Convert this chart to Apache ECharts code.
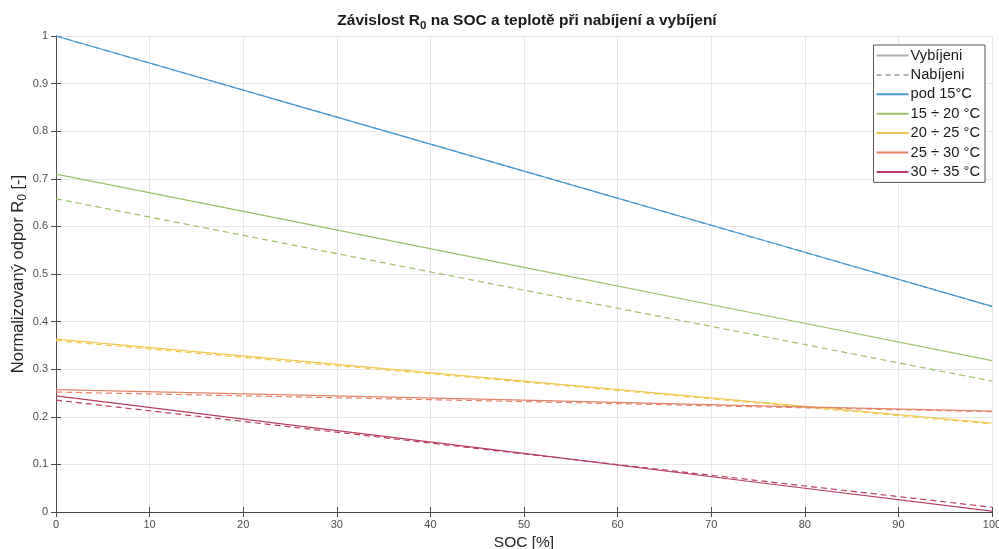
<!DOCTYPE html>
<html>
<head>
<meta charset="utf-8">
<script src="https://cdn.jsdelivr.net/npm/echarts@6/dist/echarts.min.js"></script>
<style>html,body{margin:0;padding:0;background:#fff}#c{width:999px;height:549px}</style>
</head>
<body>
<div id="c"></div>
<script>
// SOC [%] sample points
var soc = [0, 25, 50, 75, 100];
// Vybíjení (discharge, solid)
var pod15_v = [1.000, 0.858, 0.716, 0.574, 0.432];
var t15_20_v = [0.710, 0.612, 0.514, 0.416, 0.318];
var t20_25_v = [0.363, 0.319, 0.275, 0.231, 0.187];
var t25_30_v = [0.257, 0.246, 0.235, 0.223, 0.212];
var t30_35_v = [0.244, 0.183, 0.123, 0.062, 0.002];
// Nabíjení (charge, dashed)
var pod15_n = [1.000, 0.858, 0.716, 0.574, 0.432];
var t15_20_n = [0.658, 0.562, 0.466, 0.371, 0.275];
var t20_25_n = [0.360, 0.316, 0.273, 0.229, 0.185];
var t25_30_n = [0.252, 0.242, 0.232, 0.221, 0.211];
var t30_35_n = [0.235, 0.179, 0.122, 0.066, 0.010];

var names = ['pod 15°C', '15 ÷ 20 °C', '20 ÷ 25 °C', '25 ÷ 30 °C', '30 ÷ 35 °C'];
var colors = ['#4a9ad2', '#9dc16a', '#f0c850', '#e2836a', '#b8405e'];
var solid = [pod15_v, t15_20_v, t20_25_v, t25_30_v, t30_35_v];
var dashed = [pod15_n, t15_20_n, t20_25_n, t25_30_n, t30_35_n];

function pairs(arr) { return soc.map(function (s, i) { return [s, arr[i]]; }); }

var FONT = 'Liberation Sans, Arial, Helvetica, sans-serif';
var series = [
  { name: 'Vybíjeni', type: 'line', data: [], symbol: 'none', lineStyle: { color: '#b0b0b0', width: 1.2 }, itemStyle: { color: '#b0b0b0' } },
  { name: 'Nabíjeni', type: 'line', data: [], symbol: 'none', lineStyle: { color: '#b0b0b0', width: 1.2, type: [5, 4] }, itemStyle: { color: '#b0b0b0' } }
];
for (var j = 0; j < names.length; j++) {
  series.push({ name: names[j], type: 'line', data: pairs(solid[j]), symbol: 'none', z: 3,
    lineStyle: { color: colors[j], width: 1.2 }, itemStyle: { color: colors[j] } });
}
for (var i = 0; i < names.length; i++) {
  series.push({ name: names[i], type: 'line', data: pairs(dashed[i]), symbol: 'none', z: 2,
    lineStyle: { color: colors[i], width: 1.2, type: [6, 4] }, itemStyle: { color: colors[i] } });
}

var axisLine = { show: true, lineStyle: { color: '#4a4a4a', width: 1 } };
var tick = { inside: true, length: 5, lineStyle: { color: '#4a4a4a' } };
var chart = echarts.init(document.getElementById('c'), null, { renderer: 'canvas' });
chart.setOption({
  animation: false,
  backgroundColor: '#fff',
  textStyle: { fontFamily: FONT },
  title: {
    text: 'Závislost R{sub|0} na SOC a teplotě při nabíjení a vybíjení',
    left: 522, top: 5, textAlign: 'center',
    textStyle: { fontSize: 15.5, fontWeight: 'bold', color: '#1a1a1a', fontFamily: FONT,
      rich: { sub: { fontSize: 11.5, fontWeight: 'bold', color: '#1a1a1a', fontFamily: FONT, padding: [10, 0, 0, 0] } } }
  },
  legend: {
    orient: 'vertical', right: 14, top: 45,
    data: ['Vybíjeni', 'Nabíjeni'].concat(names),
    itemWidth: 32, itemHeight: 10, itemGap: 4.4,
    padding: [3, 5, 3, 2],
    itemStyle: { opacity: 0 },
    backgroundColor: '#fff', borderColor: '#555', borderWidth: 1,
    textStyle: { fontSize: 14.7, lineHeight: 15, color: '#1a1a1a', fontFamily: FONT, padding: [0, 0, 0, -3] }
  },
  grid: { left: 56, right: 7, top: 36, bottom: 37, containLabel: false, outerBoundsMode: 'none' },
  xAxis: [
    { type: 'value', min: 0, max: 100, interval: 10, position: 'bottom',
      name: 'SOC [%]', nameLocation: 'middle', nameGap: 21,
      nameTextStyle: { fontSize: 15.5, color: '#262626', fontFamily: FONT },
      axisLine: axisLine, axisTick: tick,
      axisLabel: { fontSize: 11, color: '#4d4d4d', margin: 7 },
      splitLine: { show: true, lineStyle: { color: '#e6e6e6', width: 1 } } },
    { type: 'value', min: 0, max: 100, interval: 10, position: 'top',
      axisLine: axisLine, axisTick: tick,
      axisLabel: { show: false }, splitLine: { show: false } }
  ],
  yAxis: [
    { type: 'value', min: 0, max: 1, interval: 0.1, position: 'left',
      name: 'Normalizovaný odpor R{sub|0} [-]', nameLocation: 'middle', nameGap: 27, nameRotate: 90,
      nameMoveOverlap: false,
      nameTextStyle: { fontSize: 16.5, color: '#262626', fontFamily: FONT,
        rich: { sub: { fontSize: 12, color: '#262626', fontFamily: FONT, padding: [10, 0, 0, 0] } } },
      axisLine: axisLine, axisTick: tick,
      axisLabel: { fontSize: 11, color: '#4d4d4d', margin: 8,
        formatter: function (v) { return String(Math.round(v * 10) / 10); } },
      splitLine: { show: true, lineStyle: { color: '#e6e6e6', width: 1 } } },
    { type: 'value', min: 0, max: 1, interval: 0.1, position: 'right',
      axisLine: axisLine, axisTick: tick,
      axisLabel: { show: false }, splitLine: { show: false } }
  ],
  series: series
});
</script>
</body>
</html>
